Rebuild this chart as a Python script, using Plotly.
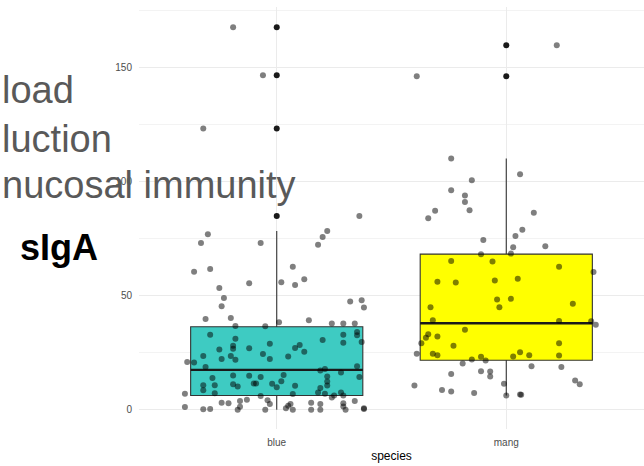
import plotly.graph_objects as go

# Categories and box statistics
species = ["blue", "mang"]
box_q1 = [6.3, 21.7]
box_median = [17.5, 37.9]
box_q3 = [36.4, 68.2]
box_lower = [0.0, 6.3]
box_upper = [78.3, 110.1]
box_fill = ["#3ECBC2", "#FFFF00"]

# Outliers plotted at the category centre
blue_outliers = [167.5, 146.5, 123.2, 84.9]
mang_outliers = [159.7, 146.1]

# Individual sIgA values with their horizontal jitter offsets
blue_vals = [167.5, 146.5, 123.2, 84.9, 78.3, 76.9, 75.7, 73.0, 73.0, 72.3, 62.6, 61.7, 60.5,
             57.2, 55.9, 55.4, 54.7, 53.4, 49.0, 48.0, 47.4, 45.4, 44.8, 40.2, 39.8, 39.2,
             38.4, 37.8, 37.8, 37.8, 36.7, 36.6,
             34.1, 32.9, 32.9, 32.7, 31.1, 30.6, 29.7, 29.4, 28.9, 28.4, 28.1, 27.1, 27.0,
             26.7, 26.4, 25.4, 24.4, 23.6, 23.6, 23.3, 22.3, 22.2, 21.9, 20.9, 20.7, 19.1,
             18.8, 17.9, 17.2, 16.3, 15.3, 15.0, 14.9, 14.6, 14.4, 14.4, 13.9, 12.5, 12.4,
             11.5, 11.5, 11.4, 11.2, 10.8, 10.8, 10.6, 10.5, 10.2, 9.9, 9.6, 8.6, 7.6, 7.6,
             7.3, 7.0, 7.0, 6.9, 6.3, 6.3, 6.1, 5.4,
             4.4, 4.2, 3.9, 3.9, 3.1, 3.1, 2.9, 2.9, 2.6, 2.6, 2.5, 1.8, 1.5, 1.3, 1.2,
             0.7, 0.7, 0.4, 0.4, 0.3, 0.0, 0.0, 0.0, 0.0, 0.0, 0.0]
blue_jit = [-0.19, -0.06, -0.32, 0.36, 0.22, -0.30, 0.20, -0.33, -0.07, 0.18, 0.07, -0.29, -0.36,
            0.12, 0.02, -0.12, 0.08, -0.25, -0.23, 0.37, 0.32, -0.24, 0.38, -0.20, -0.31, 0.14,
            0.01, 0.24, 0.29, 0.34, -0.18, -0.05,
            0.35, -0.29, 0.29, 0.35, -0.18, 0.20, 0.37, 0.29, -0.03, 0.10, -0.19, 0.08, -0.12,
            -0.19, -0.25, 0.12, -0.06, -0.20, -0.32, 0.05, -0.24, -0.03, -0.18, -0.39, -0.36, 0.35,
            -0.31, 0.21, 0.19, 0.28, 0.03, -0.19, -0.12, 0.22, -0.07, 0.36, -0.28, 0.02, 0.22,
            -0.10, -0.09, -0.02, -0.19, -0.27, -0.32, 0.22, 0.08, -0.17, 0.00, 0.19, -0.32, 0.18, 0.28,
            -0.27, 0.21, -0.40, 0.07, 0.25, 0.29, -0.07, 0.24,
            -0.13, -0.04, -0.16, 0.34, 0.15, -0.24, -0.21, 0.29, 0.06, 0.19, -0.03, 0.05, 0.29, -0.16, -0.40,
            0.04, 0.38, 0.38, -0.29, -0.32, -0.05, 0.07, 0.15, 0.19, -0.17, 0.30]

mang_vals = [159.7, 146.1, 110.1, 103.2, 100.5, 96.2, 93.9, 91.0, 87.4, 87.2, 86.3, 83.9, 78.9,
             76.1, 74.4, 71.6, 71.2, 68.4, 68.1, 65.2, 64.9, 62.7, 60.4, 57.4, 56.6, 56.1, 55.7,
             48.6, 48.3, 46.5, 44.9, 44.9, 39.2, 38.9, 38.8, 37.3, 35.1, 33.1, 32.1, 31.6, 29.2,
             29.2, 28.1, 25.2, 24.6, 24.5, 23.9, 23.9, 23.8, 23.3, 23.2, 22.0, 21.6, 20.3, 19.1,
             18.8, 16.9, 16.8, 15.7, 14.6, 12.8, 11.4, 11.2, 10.6, 8.7, 8.0, 7.4, 6.7, 6.6, 6.3]
mang_jit = [0.22, -0.39, -0.24, 0.06, -0.15, -0.24, -0.18, -0.18, -0.16, -0.31, 0.12, -0.34, 0.07,
            0.04, -0.10, 0.17, 0.03, 0.02, -0.11, -0.24, -0.06, 0.23, 0.38, 0.05, -0.05, -0.30, -0.22,
            0.02, -0.04, 0.29, -0.03, -0.33, -0.32, 0.23, 0.37, 0.39, -0.18, -0.34, -0.30, -0.35, -0.37,
            0.23, -0.23, 0.06, -0.39, -0.32, -0.30, 0.10, 0.23, 0.03, -0.11, -0.15, -0.09, -0.19, 0.11,
            0.24, -0.11, -0.07, -0.24, -0.07, 0.30, -0.01, 0.32, -0.40, -0.28, -0.24, -0.14, 0.06, 0.065, 0.00]

# Overlaid caption lines and axis label
caption_lines = ["load", "luction", "nucosal immunity"]
caption_y = [90, 139, 185]
y_label = "sIgA"
x_label = "species"
y_ticks = [0, 50, 100, 150]

FONT = "Liberation Sans, Arial, Helvetica, sans-serif"
W, H = 644, 466
ML, MR, MT, MB = 139, 0, 7, 37
BOX_W = 0.75

fig = go.Figure()

for i, name in enumerate(species):
    fig.add_trace(go.Box(
        x=[i], q1=[box_q1[i]], median=[box_median[i]], q3=[box_q3[i]],
        lowerfence=[box_lower[i]], upperfence=[box_upper[i]],
        fillcolor=box_fill[i], line=dict(color="#333333", width=1.1),
        width=BOX_W, whiskerwidth=0, boxpoints=False, hoverinfo="skip",
        showlegend=False, name=name,
    ))
    # thicker median bar
    fig.add_trace(go.Scatter(
        x=[i - BOX_W / 2, i + BOX_W / 2], y=[box_median[i]] * 2, mode="lines",
        line=dict(color="#1a1a1a", width=2.4), showlegend=False, hoverinfo="skip",
    ))

# outliers at the centre of each box
for i, outs in enumerate([blue_outliers, mang_outliers]):
    fig.add_trace(go.Scatter(
        x=[i] * len(outs), y=outs, mode="markers",
        marker=dict(color="#1a1a1a", size=6, line=dict(width=0)),
        showlegend=False, hoverinfo="skip",
    ))

# jittered observations
for i, (vals, jit) in enumerate([(blue_vals, blue_jit), (mang_vals, mang_jit)]):
    fig.add_trace(go.Scatter(
        x=[i + j for j in jit], y=vals, mode="markers",
        marker=dict(color="rgba(0,0,0,0.5)", size=6, line=dict(width=0)),
        showlegend=False, hoverinfo="skip",
    ))

plot_w = W - ML - MR
annotations = []
for text, yp in zip(caption_lines, caption_y):
    annotations.append(dict(
        text=text, xref="paper", yref="paper",
        x=-ML / plot_w, y=1 - (yp - MT) / (H - MT - MB),
        xanchor="left", yanchor="middle", showarrow=False,
        font=dict(family=FONT, size=38, color="#595959"),
    ))
annotations.append(dict(
    text="<b>" + y_label + "</b>", xref="paper", yref="paper",
    x=-(ML - 18) / plot_w, y=1 - (247 - MT) / (H - MT - MB),
    xanchor="left", yanchor="middle", showarrow=False,
    font=dict(family=FONT, size=36, color="#000000"),
))

fig.update_layout(
    width=W, height=H,
    margin=dict(l=ML, r=MR, t=MT, b=MB, pad=0),
    paper_bgcolor="white", plot_bgcolor="white",
    font=dict(family=FONT),
    annotations=annotations,
    xaxis=dict(
        range=[-0.6, 1.6], tickvals=[0, 1], ticktext=species,
        showgrid=True, gridcolor="#EBEBEB", gridwidth=1, zeroline=False,
        showline=False, ticks="", ticklabelstandoff=6,
        tickfont=dict(size=10, color="#4D4D4D"),
        title=dict(text=x_label, font=dict(size=12, color="#000000"), standoff=4),
    ),
    yaxis=dict(
        range=[-8.4, 176.4], tickvals=y_ticks,
        showgrid=True, gridcolor="#EBEBEB", gridwidth=1, zeroline=False,
        showline=False, ticks="", ticklabelstandoff=6,
        tickfont=dict(size=10, color="#4D4D4D"),
        minor=dict(tickvals=[25, 75, 125, 175], showgrid=True, gridcolor="#F3F3F3", gridwidth=0.6),
    ),
)

fig.write_html("out.html")
